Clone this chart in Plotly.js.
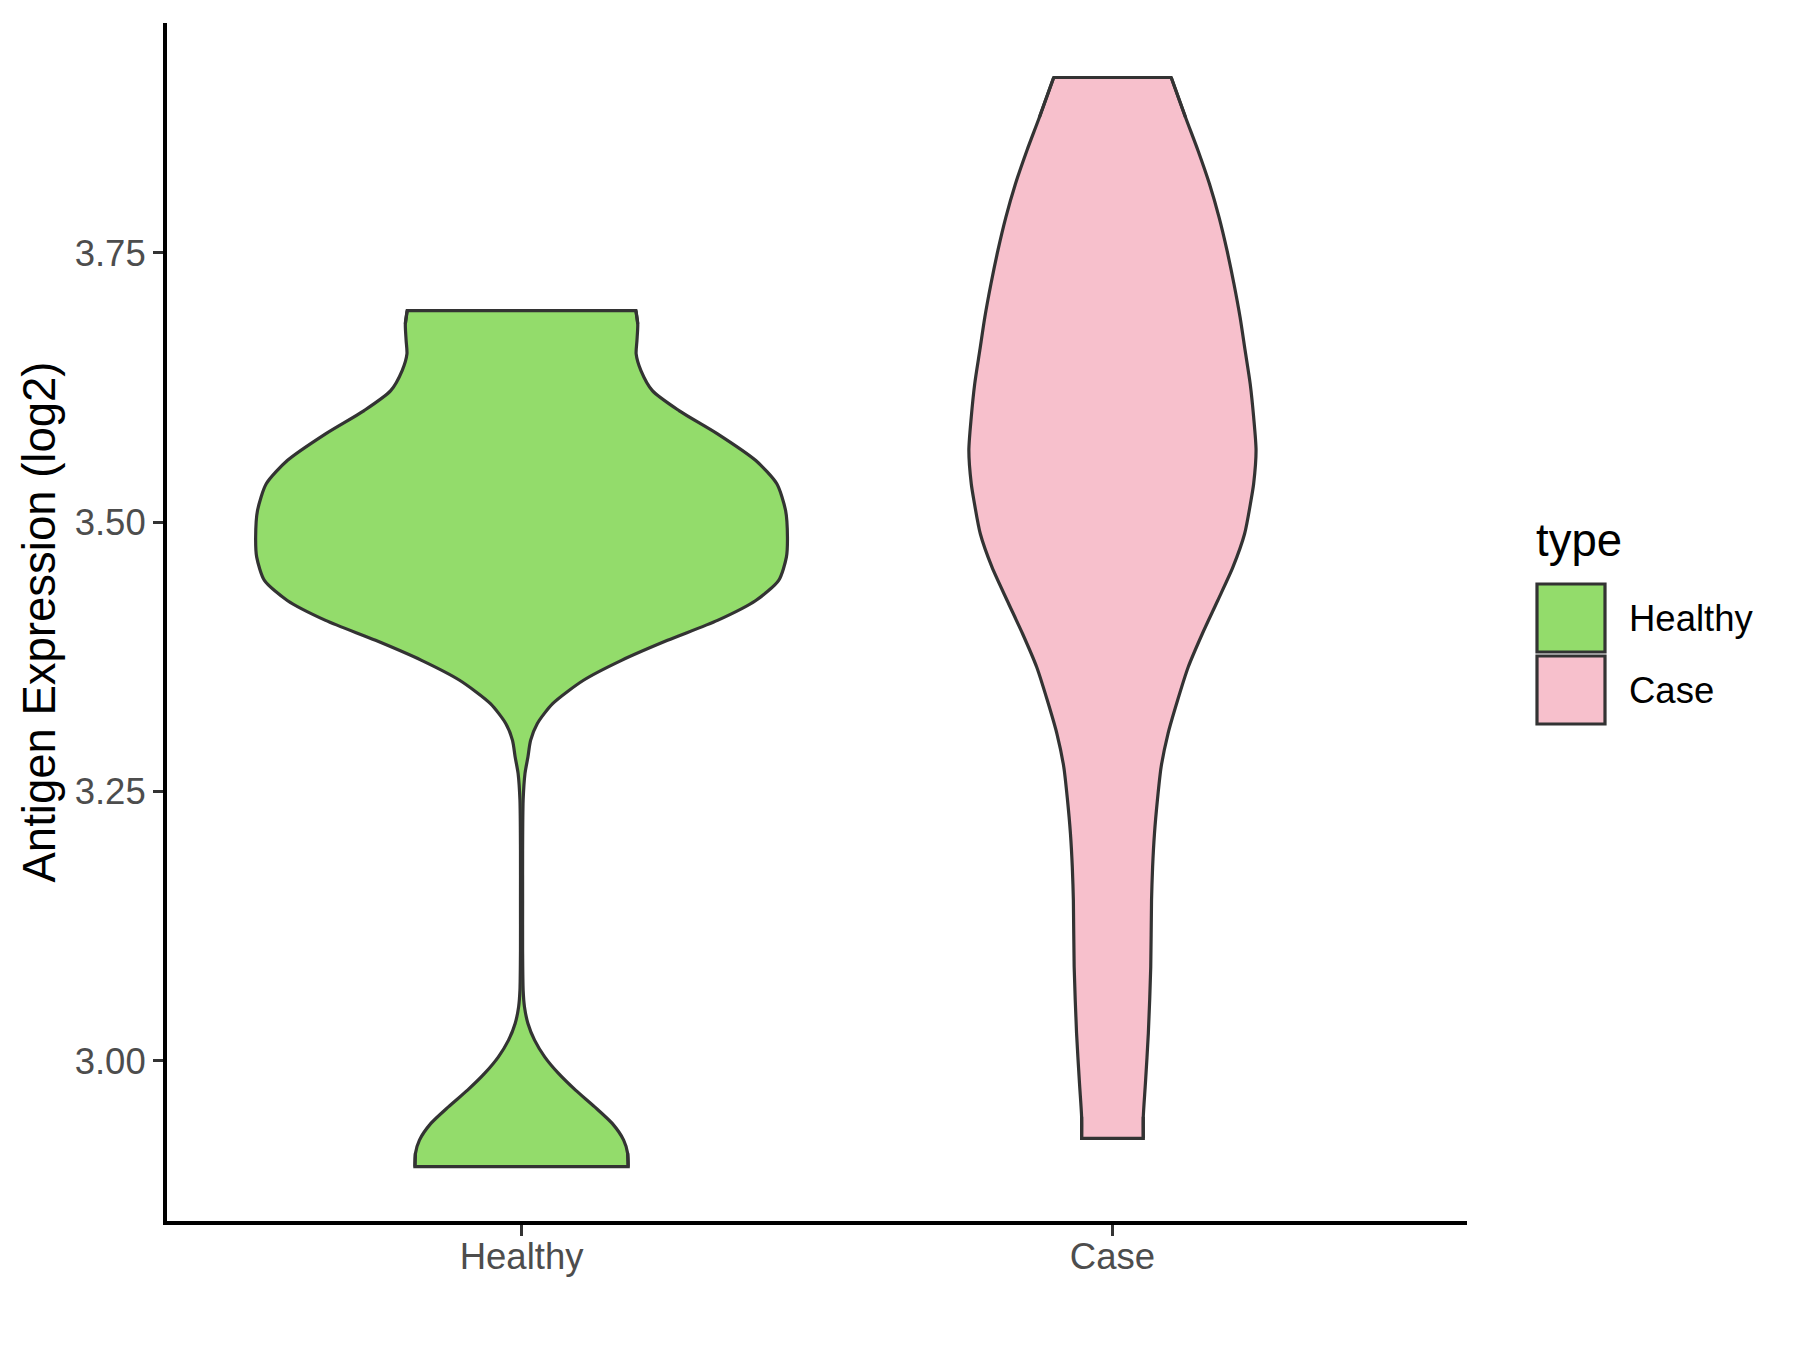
<!DOCTYPE html>
<html>
<head>
<meta charset="utf-8">
<script src="https://cdn.plot.ly/plotly-3.0.1.min.js"></script>
<style>
  html, body { margin: 0; padding: 0; background: #ffffff; }
  #chart { width: 1800px; height: 1350px; }
</style>
</head>
<body>
<div id="chart"></div>
<script>
// ---- data ----
const categories = ["Healthy", "Case"];
const fillColors = ["#93DC6B", "#F7C0CC"];

// Healthy: expression values (log2) and relative density (1 = widest point of all groups)
const healthyY = [2.9017, 2.9141, 2.9264, 2.9419, 2.9573, 2.9728, 2.9883, 3.0037, 3.0192, 3.0347,
  3.0501, 3.0656, 3.1027, 3.1491, 3.1955, 3.2419, 3.2669, 3.2821, 3.2975, 3.3130,
  3.3316, 3.3533, 3.3718, 3.3904, 3.4089, 3.4274, 3.4460, 3.4676, 3.4862, 3.5109,
  3.5357, 3.5573, 3.5821, 3.6037, 3.6222, 3.6408, 3.6563, 3.6686, 3.6841, 3.6965];
const healthyDensity = [0.401, 0.399, 0.384, 0.341, 0.275, 0.203, 0.139, 0.087, 0.049, 0.024,
  0.011, 0.006, 0.004, 0.004, 0.004, 0.006, 0.013, 0.024, 0.034, 0.059,
  0.117, 0.233, 0.376, 0.549, 0.737, 0.881, 0.967, 0.996, 1.000, 0.993,
  0.960, 0.881, 0.737, 0.592, 0.492, 0.449, 0.431, 0.434, 0.437, 0.430];

// Case
const caseY = [2.9280, 2.9481, 2.9793, 3.0257, 3.0873, 3.1494, 3.1801, 3.2110, 3.2419, 3.2728,
  3.3038, 3.3347, 3.3656, 3.3965, 3.4274, 3.4583, 3.4893, 3.5202, 3.5357, 3.5666,
  3.5975, 3.6285, 3.6594, 3.6903, 3.7212, 3.7521, 3.7830, 3.8140, 3.8449, 3.8758, 3.9129];
const caseDensity = [0.116, 0.116, 0.124, 0.135, 0.144, 0.147, 0.151, 0.158, 0.169, 0.183,
  0.209, 0.245, 0.285, 0.338, 0.396, 0.453, 0.497, 0.521, 0.531, 0.540,
  0.531, 0.518, 0.499, 0.480, 0.457, 0.431, 0.401, 0.365, 0.322, 0.275, 0.221];

const yTickVals = [3.00, 3.25, 3.50, 3.75];
const yTitle = "Antigen Expression (log2)";
const legendTitle = "type";

// ---- layout constants ----
const W = 1800, H = 1350;
const M = { l: 167, r: 333, t: 23, b: 129 };
const halfWidth = 0.45; // ggplot default width 0.9
const outline = "#333333";
const LW = 3.2;
const FONT = "Liberation Sans, Arial, Helvetica, sans-serif";

function violinTraces(center, ys, dens, color, name) {
  const n = ys.length;
  const left = dens.map(d => center - halfWidth * d);
  const right = dens.map(d => center + halfWidth * d);
  // filled body
  const fx = left.concat(right.slice().reverse(), [left[0]]);
  const fy = ys.concat(ys.slice().reverse(), [ys[0]]);
  const body = {
    type: "scatter", mode: "lines", x: fx, y: fy, name: name,
    fill: "toself", fillcolor: color, line: { width: 0, color: color },
    hoverinfo: "skip", showlegend: false
  };
  // smooth sides
  const sides = {
    type: "scatter", mode: "lines",
    x: left.concat([null], right), y: ys.concat([null], ys),
    line: { color: outline, width: LW, shape: "spline", smoothing: 0.7 },
    connectgaps: false, hoverinfo: "skip", showlegend: false
  };
  // flat trimmed ends (top and bottom)
  const ends = {
    type: "scatter", mode: "lines",
    x: [left[n - 2], left[n - 1], right[n - 1], right[n - 2], null, left[1], left[0], right[0], right[1]],
    y: [ys[n - 2], ys[n - 1], ys[n - 1], ys[n - 2], null, ys[1], ys[0], ys[0], ys[1]],
    line: { color: outline, width: LW, shape: "linear" },
    connectgaps: false, hoverinfo: "skip", showlegend: false
  };
  return [body, sides, ends];
}

const traces = [].concat(
  violinTraces(0, healthyY, healthyDensity, fillColors[0], categories[0]),
  violinTraces(1, caseY, caseDensity, fillColors[1], categories[1])
);

// pixel -> paper helpers for the legend
const PW = W - M.l - M.r, PH = H - M.t - M.b;
const px = v => (v - M.l) / PW;
const py = v => 1 - (v - M.t) / PH;

const keyLeft = 1537, keySize = 68, keyTop0 = 584, keyStep = 72;
const shapes = [], annotations = [];
categories.forEach((c, i) => {
  const top = keyTop0 + i * keyStep;
  shapes.push({
    type: "rect", xref: "paper", yref: "paper",
    x0: px(keyLeft), x1: px(keyLeft + keySize), y0: py(top + keySize), y1: py(top),
    fillcolor: fillColors[i], line: { color: outline, width: LW }
  });
  annotations.push({
    xref: "paper", yref: "paper", x: px(keyLeft + keySize + 22), y: py(top + keySize / 2),
    xanchor: "left", yanchor: "middle", showarrow: false, text: c,
    font: { family: FONT, size: 36.5, color: "#000000" }
  });
});
annotations.push({
  xref: "paper", yref: "paper", x: px(keyLeft - 3), y: py(540),
  xanchor: "left", yanchor: "middle", showarrow: false, text: legendTitle,
  font: { family: FONT, size: 45.5, color: "#000000" }
});

const layout = {
  width: W, height: H,
  margin: M,
  paper_bgcolor: "#ffffff", plot_bgcolor: "#ffffff",
  showlegend: false,
  font: { family: FONT },
  xaxis: {
    range: [-0.6, 1.6], tickmode: "array", tickvals: categories.map((c, i) => i), ticktext: categories,
    showgrid: false, zeroline: false, showline: true, linecolor: "#000000", linewidth: 4,
    ticks: "outside", ticklen: 11, tickwidth: 3, tickcolor: outline,
    ticklabelstandoff: -11,
    tickfont: { family: FONT, size: 36.5, color: "#4D4D4D" },
    fixedrange: true
  },
  yaxis: {
    range: [2.8513, 3.9635], tickmode: "array", tickvals: yTickVals,
    ticktext: yTickVals.map(v => v.toFixed(2)),
    showgrid: false, zeroline: false, showline: true, linecolor: "#000000", linewidth: 4,
    ticks: "outside", ticklen: 10, tickwidth: 3, tickcolor: outline,
    tickfont: { family: FONT, size: 36.5, color: "#4D4D4D" },
    title: { text: yTitle, font: { family: FONT, size: 45.5, color: "#000000" }, standoff: 6 },
    fixedrange: true
  },
  shapes: shapes,
  annotations: annotations
};

Plotly.newPlot("chart", traces, layout, { staticPlot: true, displayModeBar: false });
</script>
</body>
</html>
